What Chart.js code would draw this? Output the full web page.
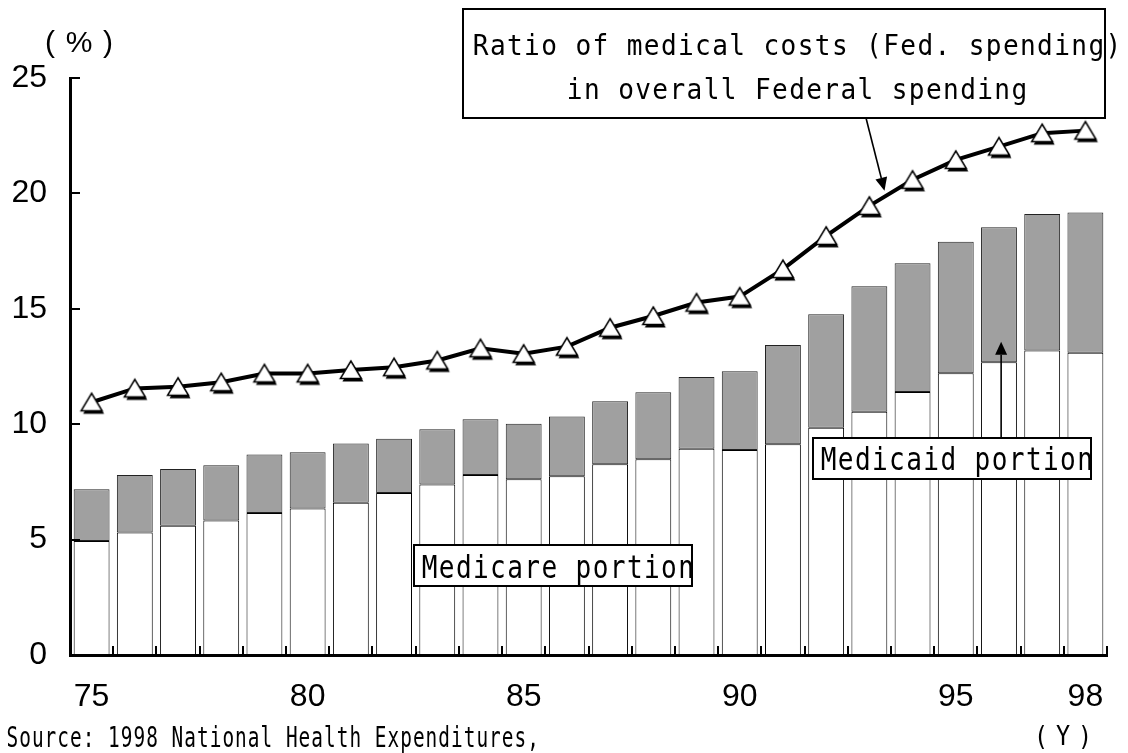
<!DOCTYPE html>
<html>
<head>
<meta charset="utf-8">
<script src="https://cdn.jsdelivr.net/npm/chart.js@4.4.0/dist/chart.umd.min.js"></script>
<style>
  html, body { margin: 0; padding: 0; background: #fff; }
  #wrap { width: 1128px; height: 753px; }
</style>
</head>
<body>
<div id="wrap"><canvas id="chart" width="1128" height="753"></canvas></div>
<script>
// values (% of overall Federal spending)
const years = ['75','76','77','78','79','80','81','82','83','84','85','86',
               '87','88','89','90','91','92','93','94','95','96','97','98'];
const medicare = [4.94, 5.31, 5.60, 5.83, 6.15, 6.35, 6.60, 7.02, 7.39, 7.80, 7.61, 7.75,
                  8.26, 8.48, 8.94, 8.88, 9.13, 9.85, 10.54, 11.40, 12.21, 12.68, 13.19, 13.10];
const medicaid = [2.24, 2.49, 2.46, 2.39, 2.54, 2.44, 2.56, 2.35, 2.39, 2.41, 2.41, 2.58,
                  2.73, 2.90, 3.11, 3.41, 4.30, 4.91, 5.44, 5.57, 5.69, 5.85, 5.92, 6.07];
const fedRatio = [10.95, 11.55, 11.62, 11.82, 12.20, 12.20, 12.35, 12.47, 12.76, 13.29, 13.05, 13.36,
                  14.18, 14.69, 15.27, 15.53, 16.72, 18.16, 19.46, 20.59, 21.45, 22.03, 22.61, 22.72];
const xTickLabels = ['75', '80', '85', '90', '95', '98'];

const MONO = '"DejaVu Sans Mono", monospace';
const SANS = '"Liberation Sans", Arial, sans-serif';

// narrow monospace text, like the old gothic half-width font
function spacedText(ctx, str, x, baseline, cap, pitch, align, squeeze) {
  const size = cap / 0.73;
  ctx.save();
  ctx.font = size + 'px ' + MONO;
  ctx.fillStyle = '#000';
  ctx.textBaseline = 'alphabetic';
  ctx.textAlign = 'center';
  const natural = ctx.measureText('M').width;
  const sx = squeeze || Math.min(1, (pitch * 0.92) / natural);
  const total = pitch * str.length;
  let x0 = x;
  if (align === 'center') x0 = x - total / 2;
  if (align === 'right') x0 = x - total;
  for (let i = 0; i < str.length; i++) {
    ctx.save();
    ctx.translate(x0 + pitch * (i + 0.5), baseline);
    ctx.scale(sx, 1);
    ctx.fillText(str[i], 0, 0);
    ctx.restore();
  }
  ctx.restore();
}

function arrow(ctx, x1, y1, x2, y2) {
  const a = Math.atan2(y2 - y1, x2 - x1);
  const len = 13, half = 6;
  const bx = x2 - Math.cos(a) * len, by = y2 - Math.sin(a) * len;
  ctx.save();
  ctx.strokeStyle = '#000';
  ctx.fillStyle = '#000';
  ctx.lineWidth = 1.6;
  ctx.beginPath();
  ctx.moveTo(x1, y1);
  ctx.lineTo(bx, by);
  ctx.stroke();
  ctx.beginPath();
  ctx.moveTo(x2, y2);
  ctx.lineTo(bx + Math.sin(a) * half, by - Math.cos(a) * half);
  ctx.lineTo(bx - Math.sin(a) * half, by + Math.cos(a) * half);
  ctx.closePath();
  ctx.fill();
  ctx.restore();
}

function box(ctx, l, t, r, b) {
  ctx.save();
  ctx.fillStyle = '#fff';
  ctx.fillRect(l, t, r - l, b - t);
  ctx.strokeStyle = '#000';
  ctx.lineWidth = 2;
  ctx.strokeRect(l, t, r - l, b - t);
  ctx.restore();
}

// triangle marker with the dark drop shadow
function makeMarker() {
  const c = document.createElement('canvas');
  c.width = 30; c.height = 30;
  const g = c.getContext('2d');
  const tri = (dx, dy) => {
    g.beginPath();
    g.moveTo(15 + dx, 6 + dy);
    g.lineTo(25.5 + dx, 23.5 + dy);
    g.lineTo(4.5 + dx, 23.5 + dy);
    g.closePath();
  };
  g.fillStyle = '#000';
  tri(2, 3); g.fill();
  tri(0, 0);
  g.fillStyle = '#fff'; g.fill();
  g.strokeStyle = '#000'; g.lineWidth = 1.5; g.stroke();
  return c;
}

const extras = {
  id: 'extras',
  afterDraw(chart) {
    const ctx = chart.ctx;
    const x = chart.scales.x, y = chart.scales.y;
    const area = chart.chartArea;

    // inside tick marks
    ctx.save();
    ctx.strokeStyle = '#000';
    ctx.lineWidth = 2;
    ctx.beginPath();
    y.ticks.forEach(t => {
      const py = Math.round(y.getPixelForValue(t.value));
      ctx.moveTo(area.left, py);
      ctx.lineTo(area.left + 10, py);
    });
    for (let i = 1; i <= years.length; i++) {
      const px = Math.round(x.getPixelForValue(i - 0.5));
      ctx.moveTo(px, area.bottom);
      ctx.lineTo(px, area.bottom - 9);
    }
    ctx.stroke();
    ctx.restore();

    // unit labels and source
    ctx.save();
    ctx.font = '30px ' + SANS;
    ctx.fillStyle = '#000';
    ctx.textAlign = 'center';
    ctx.textBaseline = 'alphabetic';
    ctx.fillText('(', 50, 52);
    ctx.fillText('%', 79, 52);
    ctx.fillText(')', 108, 52);
    ctx.restore();
    spacedText(ctx, '(Y)', 1030, 745, 19, 22, 'left', 0.9);
    spacedText(ctx, 'Source: 1998 National Health Expenditures,', 6, 747, 21, 12.7, 'left');

    // ratio label box + arrow
    box(ctx, 463, 9, 1105, 118);
    spacedText(ctx, 'Ratio of medical costs (Fed. spending)', 797, 55, 21, 17.1, 'center');
    spacedText(ctx, 'in overall Federal spending', 797, 99, 21, 17.1, 'center');
    arrow(ctx, 866, 118, x.getPixelForValue(18.35), y.getPixelForValue(20.12));

    // medicaid label + arrow
    arrow(ctx, x.getPixelForValue(21.05), 438, x.getPixelForValue(21.05), y.getPixelForValue(13.57));
    box(ctx, 813, 438, 1091, 479);
    spacedText(ctx, 'Medicaid portion', 820, 470, 23, 17.1, 'left');

    // medicare label
    box(ctx, 414, 545, 692, 586);
    spacedText(ctx, 'Medicare portion', 421, 578, 23, 17.1, 'left');
  }
};

new Chart(document.getElementById('chart').getContext('2d'), {
  type: 'bar',
  data: {
    labels: years,
    datasets: [
      {
        type: 'line',
        label: 'Ratio of medical costs',
        data: fedRatio,
        borderColor: '#000',
        borderWidth: 4,
        pointStyle: makeMarker(),
        pointRadius: 12,
        tension: 0,
        order: 0
      },
      {
        label: 'Medicare portion',
        data: medicare,
        backgroundColor: '#ffffff',
        borderColor: '#000',
        borderWidth: 1,
        borderSkipped: false,
        stack: 'med',
        order: 2
      },
      {
        label: 'Medicaid portion',
        data: medicaid,
        backgroundColor: '#a0a0a0',
        borderColor: '#222',
        borderWidth: 1,
        borderSkipped: false,
        stack: 'med',
        order: 2
      }
    ]
  },
  options: {
    responsive: false,
    animation: false,
    layout: { padding: { top: 78, right: 21, left: 0, bottom: 0 } },
    plugins: {
      legend: { display: false },
      tooltip: { enabled: false },
      title: { display: false }
    },
    datasets: {
      bar: { categoryPercentage: 1.0, barPercentage: 0.83 }
    },
    scales: {
      x: {
        stacked: true,
        grid: { display: false, drawTicks: false, tickLength: 0 },
        border: { color: '#000', width: 3 },
        afterFit(scale) { scale.height = 98; },
        ticks: {
          autoSkip: false,
          maxRotation: 0,
          padding: 23,
          color: '#000',
          font: { family: SANS, size: 32 },
          callback(value) {
            const lab = this.getLabelForValue(value);
            return xTickLabels.includes(lab) ? lab : '';
          }
        }
      },
      y: {
        stacked: true,
        min: 0,
        max: 25,
        grid: { display: false, drawTicks: false, tickLength: 0 },
        border: { color: '#000', width: 3 },
        afterFit(scale) { scale.width = 70; },
        ticks: {
          stepSize: 5,
          padding: 23,
          color: '#000',
          font: { family: SANS, size: 32 }
        }
      }
    }
  },
  plugins: [extras]
});
</script>
</body>
</html>
